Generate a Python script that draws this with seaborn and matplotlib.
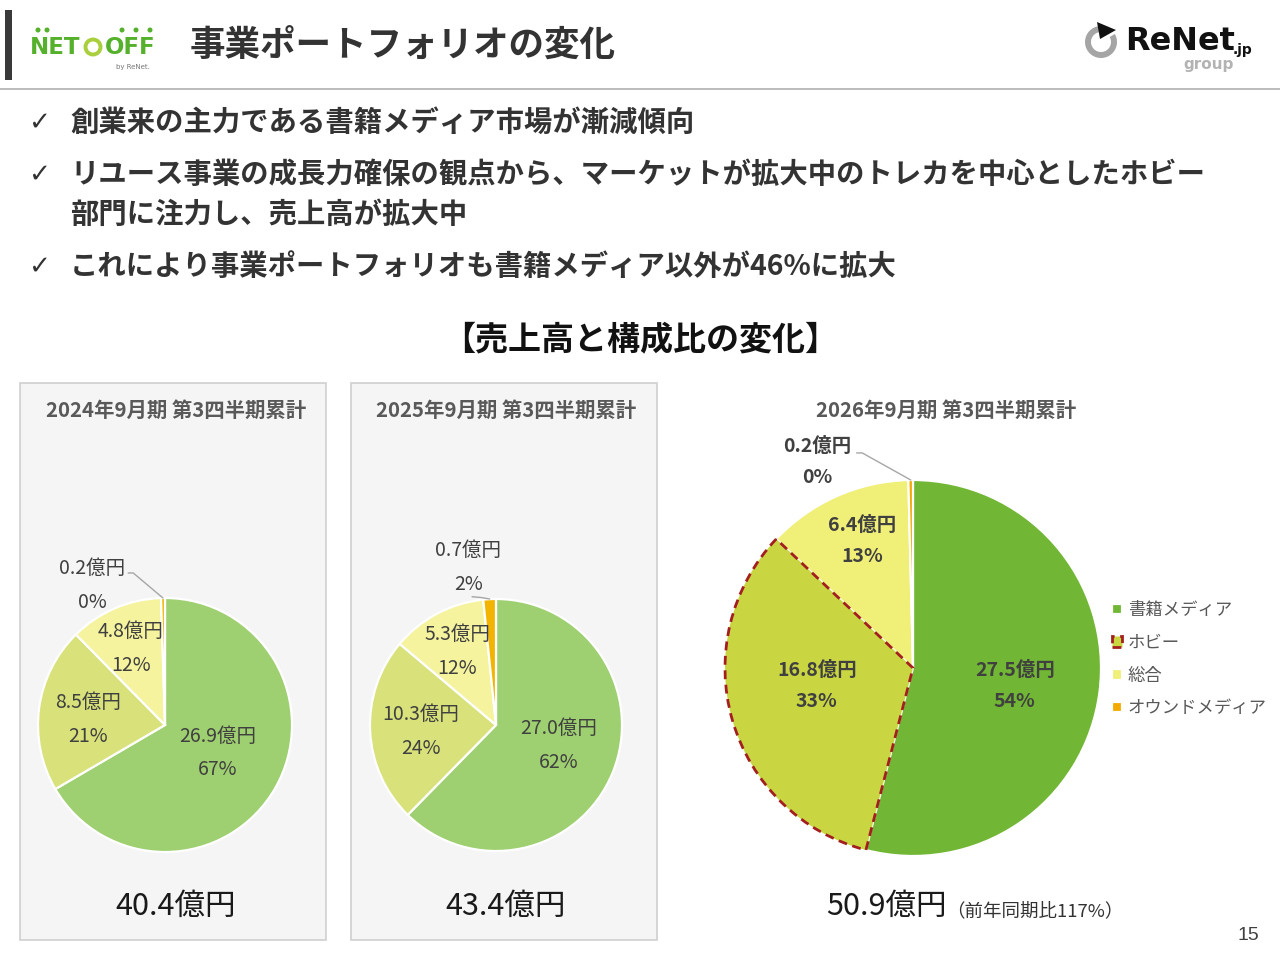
import matplotlib
matplotlib.use('Agg')
import matplotlib.pyplot as plt
import seaborn as sns
import numpy as np
from matplotlib.patches import Rectangle, Circle, Wedge, Polygon

# ---------------- data ----------------
categories = ['書籍メディア', 'ホビー', '総合', 'オウンドメディア']
period_titles = ['2024年9月期 第3四半期累計', '2025年9月期 第3四半期累計', '2026年9月期 第3四半期累計']
sales_2024 = [26.9, 8.5, 4.8, 0.2]
sales_2025 = [27.0, 10.3, 5.3, 0.7]
sales_2026 = [27.5, 16.8, 6.4, 0.2]
totals = [40.4, 43.4, 50.9]
yoy_text = '（前年同期比117%）'
page_title = '事業ポートフォリオの変化'
section_title = '【売上高と構成比の変化】'
bullets = [
    '創業来の主力である書籍メディア市場が漸減傾向',
    'リユース事業の成長力確保の観点から、マーケットが拡大中のトレカを中心としたホビー\n部門に注力し、売上高が拡大中',
    'これにより事業ポートフォリオも書籍メディア以外が46%に拡大',
]
page_number = '15'

# ---------------- style ----------------
sns.set_theme(style='white')
plt.rcParams['font.family'] = ['Noto Sans CJK JP', 'DejaVu Sans']

W, H = 1280, 960
fig = plt.figure(figsize=(W / 100, H / 100), dpi=100)
fig.patch.set_facecolor('white')

deco = fig.add_axes([0, 0, 1, 1])
deco.set_xlim(0, W)
deco.set_ylim(H, 0)
deco.axis('off')
deco.set_zorder(0)

# header
deco.add_patch(Rectangle((5, 10), 7, 70, color='#3a3a3a', lw=0))
deco.plot([0, W], [89, 89], color='#b5b5b5', lw=1.3, solid_capstyle='butt')
deco.text(190, 45, page_title, fontsize=25.6, weight='bold', color='#333333', va='center', ha='left')

# NETOFF logo
green_logo = '#55b02c'
deco.text(30, 47, 'NET', fontsize=16.5, weight='heavy', color=green_logo, va='center', ha='left', family='DejaVu Sans')
deco.add_patch(Circle((93, 47), 7.5, fill=False, ec='#a9cf3c', lw=2.8))
deco.text(105, 47, 'OFF', fontsize=16.5, weight='heavy', color=green_logo, va='center', ha='left', family='DejaVu Sans')
for dx in [38, 47, 122, 136, 150]:
    deco.add_patch(Circle((dx, 30), 2.5, color=green_logo, lw=0))
deco.text(133, 67, 'by ReNet.', fontsize=5, color='#777777', va='center', ha='center', family='DejaVu Sans')

# ReNet logo
deco.add_patch(Wedge((1101, 42), 16, -30, 280, width=6, color='#a5a5a5', lw=0))
deco.add_patch(Polygon([[1097, 22], [1116, 30], [1100, 39]], closed=True, color='#111111', lw=0))
deco.text(1125, 42, 'ReNet', fontsize=23, weight='bold', color='#111111', va='center', ha='left', family='DejaVu Sans')
deco.text(1233, 50, '.jp', fontsize=10, weight='bold', color='#111111', va='center', ha='left', family='DejaVu Sans')
deco.text(1209, 65, 'group', fontsize=11, weight='bold', color='#b3b3b3', va='center', ha='center', family='DejaVu Sans')

# bullets
check_y = [123, 175, 267]
for cy_, txt in zip(check_y, bullets):
    deco.text(28, cy_, '✓', fontsize=19, color='#333333', va='center', ha='left',
              family=['DejaVu Sans'])
    lines = txt.split('\n')
    for k, ln in enumerate(lines):
        deco.text(70, cy_ + 40 * k, ln, fontsize=20.4, weight='bold', color='#333333', va='center', ha='left')

deco.text(640, 340, section_title, fontsize=23.8, weight='bold', color='#111111', va='center', ha='center')

# panel backgrounds
for x0 in [20, 351]:
    deco.add_patch(Rectangle((x0, 383), 306, 557, fc='#f5f5f5', ec='#cfcfcf', lw=1.2))

title_x = [176, 506, 946]
for tx, tt in zip(title_x, period_titles):
    deco.text(tx, 410, tt, fontsize=14.7, weight='bold', color='#595959', va='center', ha='center')

# ---------------- pies ----------------
pale_colors = ['#9ecf70', '#d8e17a', '#f5f39e', '#f2b400']
vivid_colors = ['#71b634', '#c9d641', '#f0ef78', '#f2a900']

panels = [
    dict(values=sales_2024, cx=165, cy=725, r=127, colors=pale_colors, bold=False,
         dist=[0.47, 0.61, 0.66, 1.24], shift=[2.0, 3.6, 0.8, 26.6],
         leader=[(-0.016, 1.0), (-0.25, 1.197), (-0.29, 1.197)]),
    dict(values=sales_2025, cx=496, cy=725, r=126, colors=pale_colors, bold=False,
         dist=[0.52, 0.60, 0.66, 1.27], shift=[4.2, 2.3, -0.1, 7.1],
         leader=[(-0.05, 1.0), (-0.12, 1.012), (-0.19, 1.018)]),
    dict(values=sales_2026, cx=913, cy=668, r=188, colors=vivid_colors, bold=True,
         dist=[0.55, 0.52, 0.73, 1.21], shift=[-2.8, -5.5, -2.3, 24.3],
         leader=[(-0.012, 1.0), (-0.27, 1.144), (-0.30, 1.144)]),
]

pad = 1.15
last_wedges = None
for i, p in enumerate(panels):
    cx, cy, r = p['cx'], p['cy'], p['r']
    R = r * pad
    ax = fig.add_axes([(cx - R) / W, (H - cy - R) / H, 2 * R / W, 2 * R / H])
    ax.set_zorder(1)
    ax.patch.set_alpha(0)
    vals = p['values']
    wedges, _ = ax.pie(vals, colors=p['colors'], startangle=90, counterclock=False, radius=1,
                       wedgeprops=dict(edgecolor='white', linewidth=1.6))
    ax.set_xlim(-pad, pad)
    ax.set_ylim(-pad, pad)
    ax.axis('off')
    total = sum(vals)
    for j, (w, v) in enumerate(zip(wedges, vals)):
        th = np.deg2rad((w.theta1 + w.theta2) / 2 + p['shift'][j])
        d = p['dist'][j]
        label = f'{v:.1f}億円\n{100 * v / total:.0f}%'
        ax.text(d * np.cos(th), d * np.sin(th), label, ha='center', va='center',
                fontsize=14, linespacing=1.8, color='#404040',
                weight='bold' if p['bold'] else 'normal', clip_on=False)
    lx, ly = zip(*p['leader'])
    ax.plot(lx, ly, color='#a6a6a6', lw=1.0, clip_on=False)
    if i == 2:
        hw = wedges[1]
        hw.set_edgecolor('#a31f1f')
        hw.set_linestyle((0, (3.2, 2.0)))
        hw.set_linewidth(2.0)
        hw.set_zorder(3)
        last_wedges = wedges

# totals
total_x = [176, 506, 886]
for tx, tv in zip(total_x, totals):
    deco.text(tx, 906, f'{tv:.1f}億円', fontsize=22, color='#1a1a1a', va='center', ha='center')
deco.text(946, 911, yoy_text, fontsize=13.3, color='#333333', va='center', ha='left')

# legend
fig.legend(handles=last_wedges, labels=categories, loc='upper left',
           bbox_to_anchor=(1112 / W, 1 - 601 / H), frameon=False,
           handlelength=0.55, handleheight=0.55, handletextpad=0.35,
           labelspacing=0.85, fontsize=12.5, labelcolor='#595959',
           borderaxespad=0, borderpad=0)

deco.text(1248, 935, page_number, fontsize=14, color='#404040', va='center', ha='center',
          family=['Liberation Sans', 'DejaVu Sans'])

fig.savefig('out.png', dpi=100, facecolor='white')
